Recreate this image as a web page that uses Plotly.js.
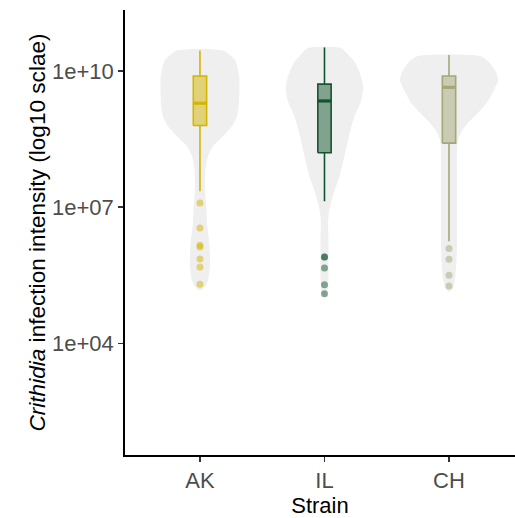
<!DOCTYPE html>
<html>
<head>
<meta charset="utf-8">
<script src="https://cdn.plot.ly/plotly-3.0.1.min.js"></script>
<style>html,body{margin:0;padding:0;background:#fff;}#chart{width:515px;height:518px;}</style>
</head>
<body>
<div id="chart"></div>
<script>
// Categories
var strains = ["AK", "IL", "CH"];
var lineColors = ["#D4B500", "#14552F", "#A4A776"];
var fillColors = ["rgba(212,181,0,0.5)", "rgba(20,85,47,0.5)", "rgba(164,167,118,0.5)"];
var pointColors = ["rgba(212,181,0,0.5)", "rgba(20,85,47,0.5)", "rgba(164,167,118,0.5)"];

// Box statistics (log10 of infection intensity)
var q1Log     = [8.80, 8.20, 8.41];
var medianLog = [9.29, 9.34, 9.64];
var q3Log     = [9.89, 9.71, 9.89];
var lowerLog  = [7.35, 7.13, 6.25];
var upperLog  = [10.45, 10.52, 10.35];

// Outliers (log10)
var outAK = [7.09, 6.54, 6.16, 6.12, 5.86, 5.68, 5.30];
var outIL = [5.90, 5.90, 5.66, 5.29, 5.09];
var outCH = [6.09, 5.85, 5.50, 5.26];

// Violin profiles: log10 level and half-width (category units)
var vioAK_y = [10.45, 10.24, 9.88, 9.29, 9.00, 8.78, 8.56, 8.34, 8.12, 7.82, 7.54, 7.24, 6.95, 6.57, 6.29, 5.96, 5.69, 5.41, 5.25, 5.17];
var vioAK_w = [0.187, 0.281, 0.315, 0.313, 0.297, 0.257, 0.185, 0.104, 0.064, 0.044, 0.040, 0.044, 0.052, 0.059, 0.072, 0.080, 0.080, 0.067, 0.040, 0.010];
var vioIL_y = [10.51, 10.35, 10.20, 9.98, 9.66, 9.36, 9.00, 8.70, 8.42, 8.04, 7.67, 7.39, 7.13, 6.90, 6.68, 6.29, 5.85, 5.41, 5.14, 5.03];
var vioIL_w = [0.129, 0.193, 0.241, 0.281, 0.311, 0.297, 0.241, 0.209, 0.185, 0.153, 0.120, 0.084, 0.056, 0.036, 0.029, 0.032, 0.032, 0.032, 0.024, 0.008];
var vioCH_y = [10.33, 10.20, 10.02, 9.80, 9.58, 9.30, 9.08, 8.86, 8.68, 8.48, 8.26, 7.60, 6.88, 6.13, 5.74, 5.41, 5.23, 5.14];
var vioCH_w = [0.249, 0.321, 0.369, 0.394, 0.361, 0.305, 0.233, 0.153, 0.104, 0.072, 0.064, 0.064, 0.064, 0.064, 0.058, 0.048, 0.032, 0.008];

// Y-axis ticks
var tickValsLog = [10, 7, 4];
var tickLabels = ["1e+10", "1e+07", "1e+04"];

var outliers = [outAK, outIL, outCH];
var vioY = [vioAK_y, vioIL_y, vioCH_y];
var vioW = [vioAK_w, vioIL_w, vioCH_w];
function p10(v) { return Math.pow(10, v); }

var traces = [];
// violins
for (var i = 0; i < strains.length; i++) {
  var xs = [], ys = [];
  for (var k = 0; k < vioY[i].length; k++) { xs.push(i + vioW[i][k]); ys.push(p10(vioY[i][k])); }
  for (var k2 = vioY[i].length - 1; k2 >= 0; k2--) { xs.push(i - vioW[i][k2]); ys.push(p10(vioY[i][k2])); }
  xs.push(xs[0]); ys.push(ys[0]);
  traces.push({type: "scatter", mode: "lines", x: xs, y: ys, fill: "toself",
    fillcolor: "#EFEFEF", line: {width: 0, color: "#EFEFEF", shape: "spline", smoothing: 0.6},
    hoverinfo: "skip", showlegend: false});
}
var boxW = 0.107;
for (var j = 0; j < strains.length; j++) {
  var q1 = p10(q1Log[j]), q3 = p10(q3Log[j]), md = p10(medianLog[j]);
  var lo = p10(lowerLog[j]), hi = p10(upperLog[j]);
  var xl = j - boxW / 2, xr = j + boxW / 2;
  // whiskers
  traces.push({type: "scatter", mode: "lines", x: [j, j, null, j, j], y: [q3, hi, null, q1, lo],
    line: {color: lineColors[j], width: 1.6}, hoverinfo: "skip", showlegend: false});
  // box
  traces.push({type: "scatter", mode: "lines", x: [xl, xr, xr, xl, xl], y: [q1, q1, q3, q3, q1],
    fill: "toself", fillcolor: fillColors[j], line: {color: lineColors[j], width: 1.6},
    hoverinfo: "skip", showlegend: false});
  // median
  traces.push({type: "scatter", mode: "lines", x: [xl, xr], y: [md, md],
    line: {color: lineColors[j], width: 3.2}, hoverinfo: "skip", showlegend: false});
  // outliers
  var ox = [], oy = [];
  for (var m = 0; m < outliers[j].length; m++) { ox.push(j); oy.push(p10(outliers[j][m])); }
  traces.push({type: "scatter", mode: "markers", x: ox, y: oy,
    marker: {color: pointColors[j], size: 7, line: {width: 0}}, showlegend: false});
}

var layout = {
  width: 515, height: 518,
  margin: {l: 125, r: 0, t: 10, b: 63},
  paper_bgcolor: "#fff", plot_bgcolor: "#fff",
  font: {family: "Liberation Sans, Arial, sans-serif"},
  xaxis: {
    range: [-0.602, 2.53], tickvals: [0, 1, 2], ticktext: strains,
    showgrid: false, zeroline: false, showline: true, linecolor: "#000", linewidth: 1.8,
    ticks: "outside", ticklen: 5, tickwidth: 1.5, tickcolor: "#333",
    tickfont: {size: 22, color: "#4D4D4D"},
    title: {text: "Strain", font: {size: 22, color: "#000"}, standoff: 4},
    automargin: false
  },
  yaxis: {
    type: "log", range: [1.539, 11.344],
    tickvals: tickValsLog.map(p10), ticktext: tickLabels,
    showgrid: false, zeroline: false, showline: true, linecolor: "#000", linewidth: 1.8,
    ticks: "outside", ticklen: 5, tickwidth: 1.5, tickcolor: "#333",
    tickfont: {size: 22, color: "#4D4D4D"},
    title: {text: "<i>Crithidia</i> infection intensity (log10 sclae)", font: {size: 22.6, color: "#000"}, standoff: 0},
    automargin: false
  }
};
Plotly.newPlot("chart", traces, layout, {displayModeBar: false, staticPlot: true});
</script>
</body>
</html>
